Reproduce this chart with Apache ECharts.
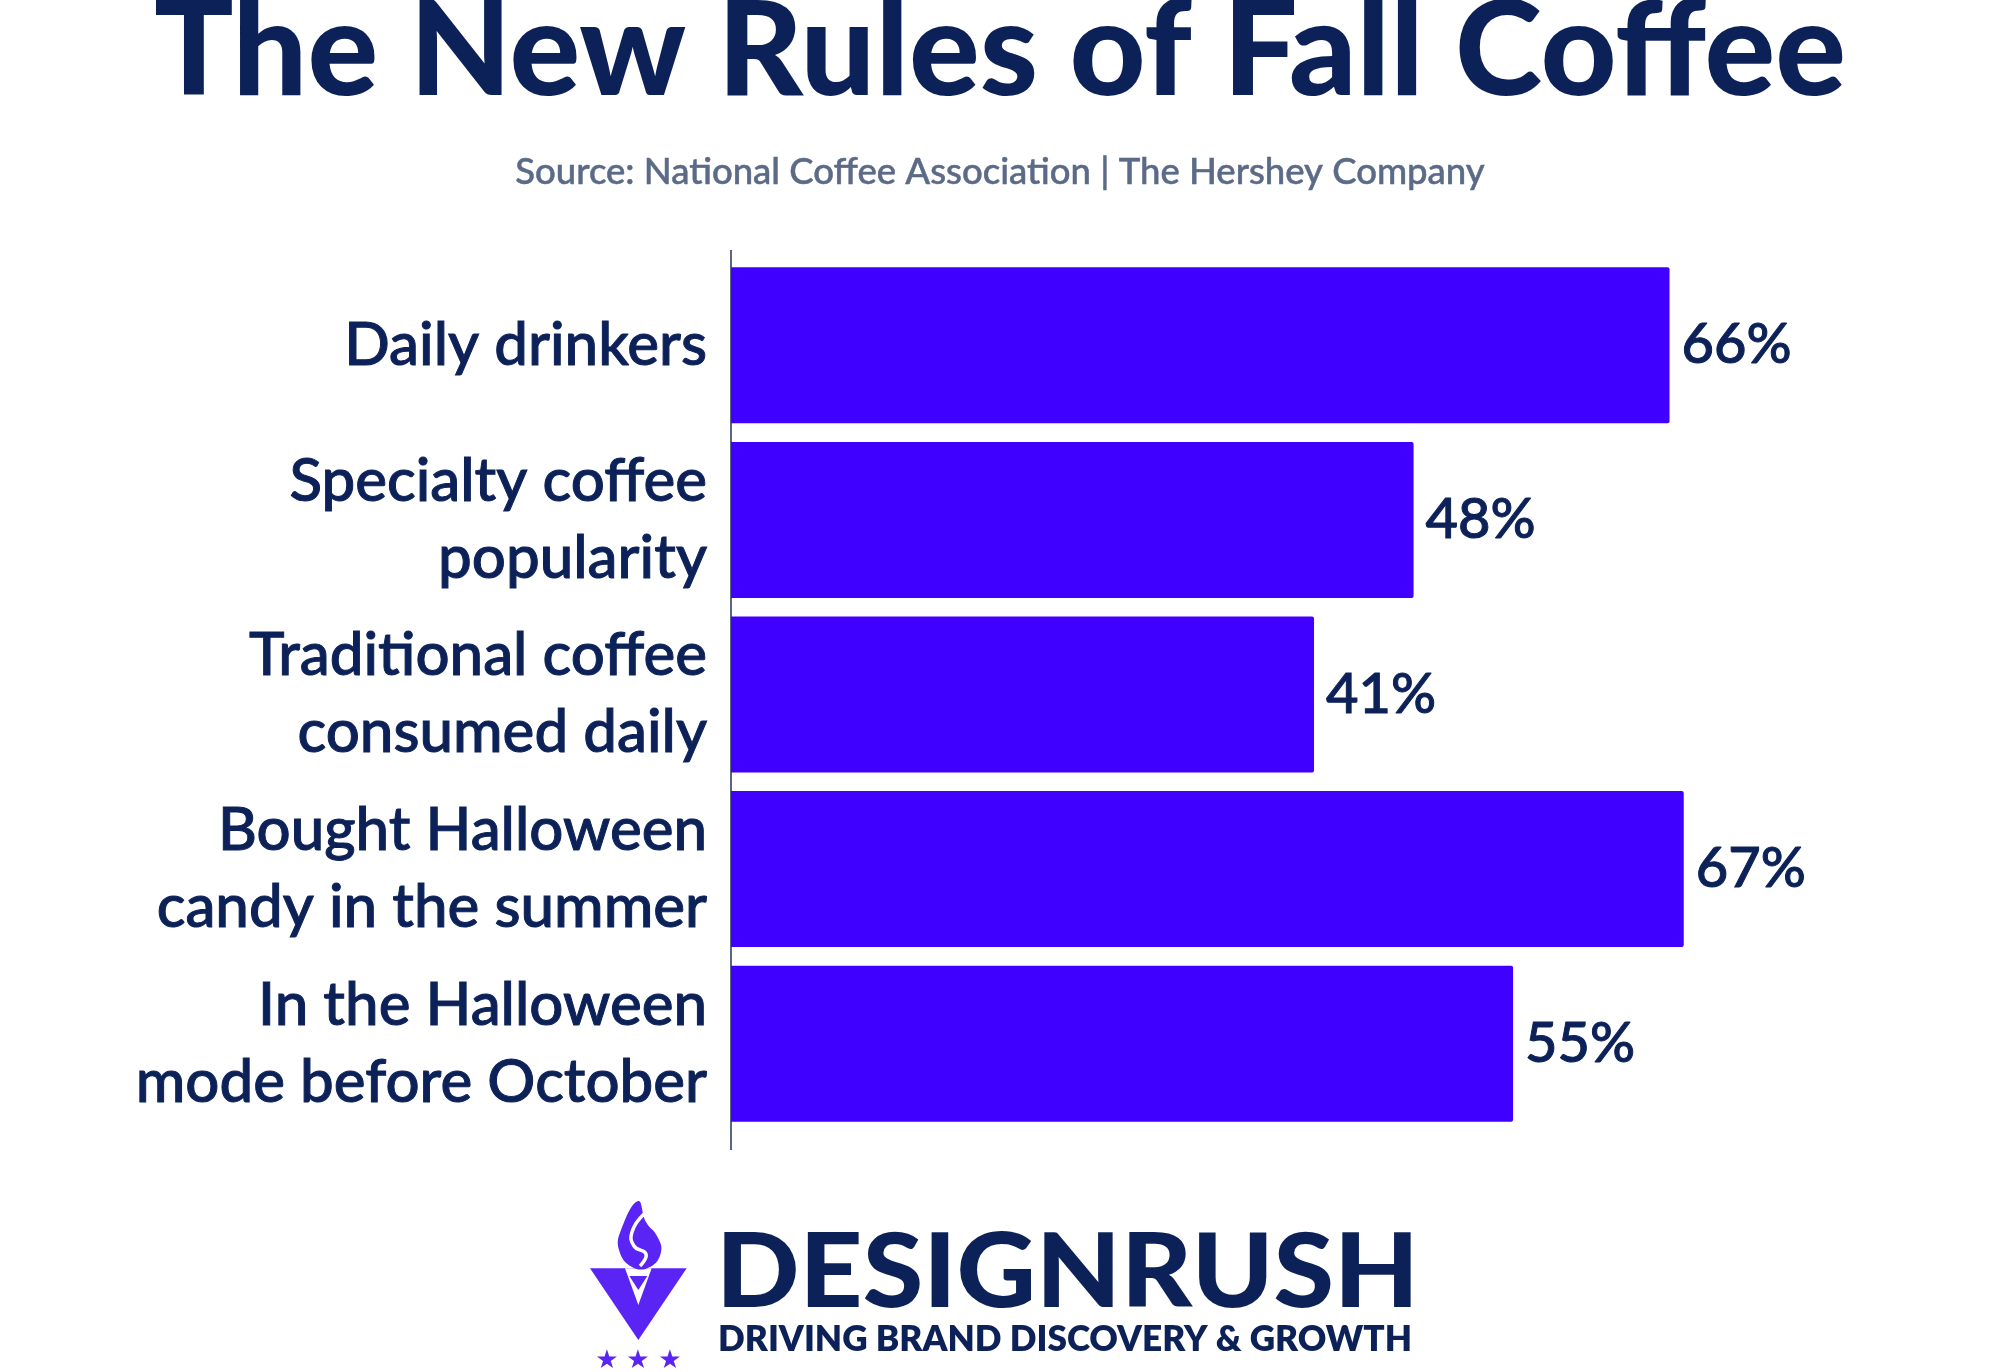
<!DOCTYPE html>
<html><head><meta charset="utf-8">
<script src="https://cdn.jsdelivr.net/npm/echarts@6/dist/echarts.min.js"></script>
<style>html,body{margin:0;padding:0;background:#fff}#c{width:2000px;height:1372px}</style>
</head><body><div id="c"></div>
<script>
const categories = [
  "Daily drinkers",
  "Specialty coffee\npopularity",
  "Traditional coffee\nconsumed daily",
  "Bought Halloween\ncandy in the summer",
  "In the Halloween\nmode before October"
];
const values = [66, 48, 41, 67, 55];
const titleText = "The New Rules of Fall Coffee";
const subtitleText = "Source: National Coffee Association | The Hershey Company";

const NAVY = "#0c2157";
const BAR = "#4000ff";
const ICON = "#5a24f5";
const FONT = "Lato, 'Noto Sans', sans-serif";

const chart = echarts.init(document.getElementById('c'), null, {renderer: 'canvas'});
const ox = 580, oy = 1190, s = 1/3;
function P(x, y){ return [ox + x*s, oy + y*s]; }
function star(cx){ return {type: 'text', x: cx, y: 1361, style: {text: '★', fill: ICON, font: "26px 'DejaVu Sans'", align: 'center', verticalAlign: 'middle'}}; }
chart.setOption({
  backgroundColor: '#ffffff',
  animation: false,
  grid: {left: 731, top: 258, height: 873, width: 14.22*80, containLabel: false},
  xAxis: {type: 'value', min: 0, max: 80, show: false},
  yAxis: {
    type: 'category', data: categories, inverse: true,
    axisLine: {show: false}, axisTick: {show: false},
    axisLabel: {color: NAVY, fontFamily: FONT, fontSize: 60, fontWeight: 500, lineHeight: 77, margin: 24, align: 'right',
      textBorderColor: NAVY, textBorderWidth: 1}
  },
  series: [{
    type: 'bar', data: values, barWidth: 156,
    itemStyle: {color: BAR, borderRadius: [0, 2, 2, 0]},
    label: {show: true, position: 'right', distance: 12, formatter: '{c}%', color: NAVY, fontFamily: FONT, fontSize: 56, fontWeight: 500,
      textBorderColor: NAVY, textBorderWidth: 1}
  }],
  graphic: [
    {type: 'text', x: 1000, y: 52, style: {text: titleText, fill: NAVY, font: "900 132px " + FONT, align: 'center', verticalAlign: 'middle'}},
    {type: 'text', x: 1000, y: 172, style: {text: subtitleText, fill: '#5b6a86', font: "500 36.5px " + FONT, align: 'center', verticalAlign: 'middle', stroke: '#5b6a86', lineWidth: 0.5}},
    {type: 'line', shape: {x1: 731, y1: 250, x2: 731, y2: 1150}, style: {stroke: '#5b6480', lineWidth: 2}},
    {type: 'text', x: 716, y: 1274, scaleX: 1.077, style: {text: 'DESIGNRUSH', fill: NAVY, font: "900 102px " + FONT, align: 'left', verticalAlign: 'middle'}},
    {type: 'text', x: 718, y: 1340, style: {text: 'DRIVING BRAND DISCOVERY & GROWTH', fill: NAVY, font: "800 35.2px " + FONT, align: 'left', verticalAlign: 'middle'}},
    {type: 'polygon', shape: {points: [P(30,235), P(320,235), P(175,450)]}, style: {fill: ICON}},
    {type: 'polygon', shape: {points: [P(135,235), P(215,235), P(175,345)]}, style: {fill: '#fff'}},
    {type: 'polygon', shape: {points: [P(148,258), P(202,258), P(175,300)]}, style: {fill: ICON}},
    {type: 'polygon', shape: {smooth: 0.45, points: [[638,1201],[646,1222],[657,1236],[661,1252],[650,1267],[632,1267],[619,1250],[621,1230]]}, style: {fill: ICON}},
    {type: 'polyline', shape: {smooth: 0.5, points: [[644,1214],[632,1232],[634,1246],[646,1254],[640,1266]]}, style: {stroke: '#fff', lineWidth: 3.5, fill: null}},
    star(607), star(638), star(670)
  ]
});
</script></body></html>
